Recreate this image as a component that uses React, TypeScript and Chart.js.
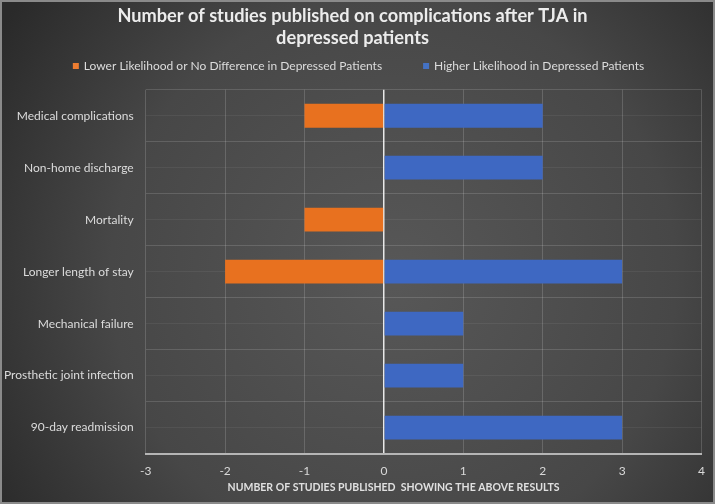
import React, { useEffect, useRef } from "react";
import { Chart, registerables } from "chart.js";

Chart.register(...registerables);

const categories = [
  "Medical complications",
  "Non-home discharge",
  "Mortality",
  "Longer length of stay",
  "Mechanical failure",
  "Prosthetic joint infection",
  "90-day readmission",
];
const lowerOrNoDiff = [-1, 0, -1, -2, 0, 0, 0];
const higherLikelihood = [2, 2, 0, 3, 1, 1, 3];
const seriesNames = [
  "Lower Likelihood or No Difference in Depressed Patients",
  "Higher Likelihood in Depressed Patients",
];
const seriesColors = ["#ED7D31", "#4472C4"];
const titleLines = [
  "Number of studies published on complications after TJA in",
  "depressed patients",
];
const xTitle = "NUMBER OF STUDIES PUBLISHED  SHOWING THE ABOVE RESULTS";
const xMin = -3;
const xMax = 4;

const bgPlugin = {
  id: "bgPlugin",
  beforeDraw(chart: any) {
    const { ctx, width, height } = chart;
    ctx.save();
    const g = ctx.createRadialGradient(width * 0.55, height * 0.55, 10, width * 0.55, height * 0.55, width * 0.65);
    g.addColorStop(0, "#575757");
    g.addColorStop(0.6, "#474747");
    g.addColorStop(1, "#2a2a2a");
    ctx.fillStyle = g;
    ctx.fillRect(0, 0, width, height);
    ctx.strokeStyle = "#8a8a8a";
    ctx.lineWidth = 2;
    ctx.strokeRect(1, 1, width - 2, height - 2);
    ctx.restore();
  },
};

const legendAndTitlePlugin = {
  id: "legendAndTitle",
  afterDraw(chart: any) {
    const { ctx, chartArea, width } = chart;
    ctx.save();
    // legend
    ctx.font = "12px Lato";
    ctx.textBaseline = "middle";
    const box = 6;
    const gapText = 5;
    const gapItems = 41;
    const widths = seriesNames.map((s) => ctx.measureText(s).width);
    const total = widths.reduce((a, w) => a + box + gapText + w, 0) + gapItems * (seriesNames.length - 1);
    let x = width / 2 + 1 - total / 2;
    const y = 66;
    seriesNames.forEach((s, i) => {
      ctx.fillStyle = seriesColors[i];
      ctx.fillRect(x, y - box / 2, box, box);
      ctx.fillStyle = "#dcdcdc";
      ctx.textAlign = "left";
      ctx.fillText(s, x + box + gapText, y + 0.5);
      x += box + gapText + widths[i] + gapItems;
    });
    // x axis title
    ctx.font = "bold 10.5px Lato";
    ctx.fillStyle = "#e0e0e0";
    ctx.textAlign = "center";
    const cx = ((chartArea.left + chartArea.right) / 2 + width / 2) / 2 + 3;
    ctx.fillText(xTitle, cx, 488);
    ctx.restore();
  },
};

function barGradient(ctx: any, light: string, dark: string) {
  const chart = ctx.chart;
  const el = ctx.element;
  if (!el || !chart.chartArea) return dark;
  const h = el.height;
  const y = el.y;
  if (!Number.isFinite(h) || !Number.isFinite(y) || h <= 0) return dark;
  const top = y - h / 2;
  const g = chart.ctx.createLinearGradient(0, top, 0, top + h);
  g.addColorStop(0, light);
  g.addColorStop(1, dark);
  return g;
}

export default function App() {
  const ref = useRef<HTMLCanvasElement | null>(null);
  useEffect(() => {
    document.body.style.margin = "0";
    const canvas = ref.current!;
    const chart = new Chart(canvas, {
      type: "bar",
      data: {
        labels: categories,
        datasets: [
          {
            label: seriesNames[0],
            data: lowerOrNoDiff,
            backgroundColor: (c: any) => barGradient(c, "#F48E4E", "#E8711F"),
            borderWidth: 0,
            barPercentage: 0.46,
            categoryPercentage: 1,
          },
          {
            label: seriesNames[1],
            data: higherLikelihood,
            backgroundColor: (c: any) => barGradient(c, "#5A86D8", "#3E68C2"),
            borderWidth: 0,
            barPercentage: 0.46,
            categoryPercentage: 1,
          },
        ],
      },
      options: {
        indexAxis: "y",
        responsive: false,
        animation: false,
        layout: { padding: { left: 3, right: 13, top: 0, bottom: 6 } },
        plugins: {
          title: {
            display: true,
            text: titleLines,
            color: "#ececec",
            font: { family: "Lato", size: 18.2, weight: "bold", lineHeight: 1.2 },
            padding: { top: 5, bottom: 41 },
          },
          legend: { display: false },
          tooltip: { enabled: false },
        },
        scales: {
          x: {
            type: "linear",
            min: xMin,
            max: xMax,
            ticks: {
              stepSize: 1,
              color: "#d9d9d9",
              font: { family: "Lato", size: 12 },
              padding: 10,
            },
            grid: {
              color: (c: any) => (c.tick && c.tick.value === 0 ? "#e8e8e8" : "rgba(255,255,255,0.16)"),
              lineWidth: (c: any) => (c.tick && c.tick.value === 0 ? 1.5 : 1),
              drawTicks: false,
            },
            border: { display: true, color: "#b5b5b5", width: 2 },
            afterFit: (scale: any) => {
              scale.height += 10;
            },
          },
          y: {
            stacked: true,
            ticks: {
              color: "#dcdcdc",
              font: { family: "Lato", size: 12 },
              padding: 12,
            },
            grid: {
              offset: true,
              color: "rgba(255,255,255,0.14)",
              drawTicks: false,
            },
            border: { display: false },
            afterFit: (scale: any) => {
              scale.width -= 11;
            },
          },
          y2: {
            type: "category",
            labels: categories,
            position: "left",
            display: true,
            ticks: { display: false, padding: 0 },
            grid: { offset: false, color: "rgba(255,255,255,0.06)", drawTicks: false },
            border: { display: false },
            afterFit: (scale: any) => {
              scale.width = 0;
            },
          },
        },
      } as any,
      plugins: [bgPlugin, legendAndTitlePlugin],
    });
    return () => chart.destroy();
  }, []);
  return (
    <div style={{ position: "fixed", left: 0, top: 0, width: 715, height: 504 }}>
      <canvas ref={ref} width={715} height={504} style={{ display: "block" }} />
    </div>
  );
}
